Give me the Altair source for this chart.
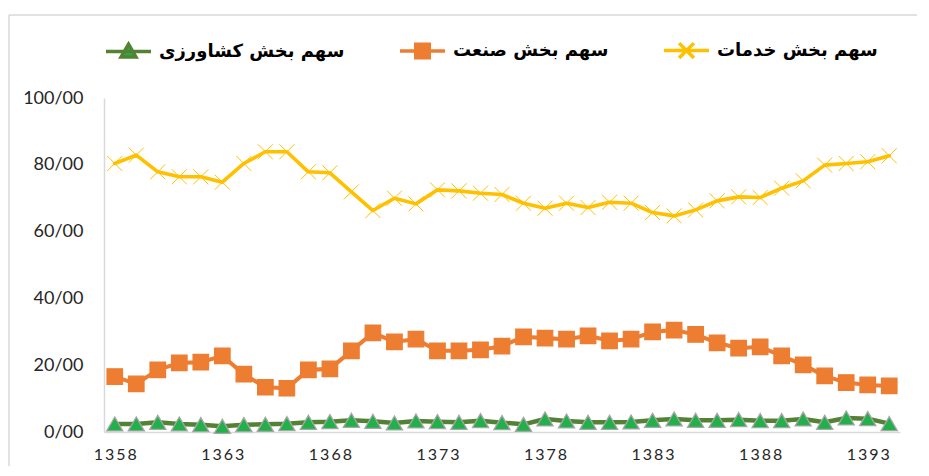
import altair as alt
import pandas as pd

years = list(range(1358, 1395))
tick_years = [1358, 1363, 1368, 1373, 1378, 1383, 1388, 1393]
y_ticks = [0, 20, 40, 60, 80, 100]

agriculture = [2.4, 2.4, 2.9, 2.4, 2.2, 1.7, 2.2, 2.3, 2.5, 2.9, 3.1, 3.5, 3.2, 2.7, 3.3, 3.1, 2.9, 3.4, 2.8,
               2.3, 3.9, 3.3, 2.9, 2.9, 3.0, 3.5, 3.9, 3.5, 3.5, 3.7, 3.4, 3.4, 3.9, 2.9, 4.2, 4.0, 2.5]
industry = [16.6, 14.4, 18.6, 20.7, 20.9, 22.8, 17.3, 13.4, 13.1, 18.6, 18.9, 24.3, 29.7, 27.0, 27.8, 24.3, 24.3, 24.6, 25.7,
            28.5, 28.1, 27.8, 28.8, 27.3, 27.8, 30.0, 30.5, 29.2, 26.7, 25.1, 25.5, 22.8, 20.1, 16.8, 14.8, 14.1, 13.8]
services = [80.4, 82.9, 77.9, 76.4, 76.4, 74.8, 80.4, 83.9, 83.9, 77.9, 77.6, 71.9, 66.3, 70.0, 68.3, 72.5, 72.2, 71.5, 71.1,
            68.5, 67.0, 68.5, 67.2, 68.8, 68.5, 65.7, 64.7, 66.5, 69.2, 70.4, 70.2, 73.0, 75.2, 79.9, 80.4, 80.9, 82.7]

series_names = ["سهم بخش کشاورزی", "سهم بخش صنعت", "سهم بخش خدمات"]
line_colors = ["#548235", "#ED7D31", "#FFC000"]
line_widths = [4.5, 3.6, 4.8]
fill_colors = ["#22B04B", "#ED7D31", "#FFC000"]
stroke_colors = ["#A6A6A6", "#ED7D31", "#FFC000"]
point_shapes = ["triangle-up", "square", "M-1,-1L1,1M-1,1L1,-1"]
point_sizes = [260, 225, 250]
point_strokes = [1.3, 1, 2.4]
legend_shapes = [
    "M-1,0H1M0,-0.33L0.33,0.24L-0.33,0.24Z",
    "M-1,0H1M-0.3,-0.3H0.3V0.3H-0.3Z",
    "M-1,0H1M-0.33,-0.33L0.33,0.33M-0.33,0.33L0.33,-0.33",
]
legend_fills = ["#22B04B", "#ED7D31", "#FFC000"]
legend_strokes = ["#548235", "#ED7D31", "#FFC000"]

rows = []
for name, vals in zip(series_names, [agriculture, industry, services]):
    for yr, v in zip(years, vals):
        rows.append({"year": yr, "value": v, "series": name})
df = pd.DataFrame(rows)

x_enc = alt.X(
    "year:Q",
    scale=alt.Scale(domain=[1357.5, 1394.5], nice=False, zero=False),
    axis=alt.Axis(
        values=tick_years, format="d",
        labelExpr="join(split(datum.label, ''), '\u2009')",
        ticks=False, grid=False, domainColor="#D9D9D9", domainWidth=1.5,
        labelFont="Lato", labelFontSize=16, labelPadding=14, labelColor="#262626",
        title=None,
    ),
)
y_enc = alt.Y(
    "value:Q",
    scale=alt.Scale(domain=[0, 100], nice=False),
    axis=alt.Axis(
        values=y_ticks, labelExpr="datum.value + '/00'",
        ticks=False, grid=False, domainColor="#D9D9D9", domainWidth=1.5,
        labelFont="Lato", labelFontSize=18, labelPadding=21, labelColor="#262626",
        title=None,
    ),
)

base = alt.Chart(df)

lines = base.mark_line(strokeJoin="round", strokeCap="round").encode(
    x=x_enc, y=y_enc,
    color=alt.Color("series:N", scale=alt.Scale(domain=series_names, range=line_colors), legend=None),
    strokeWidth=alt.StrokeWidth("series:N", scale=alt.Scale(domain=series_names, range=line_widths), legend=None),
)

points = base.mark_point(filled=True, opacity=1).encode(
    x=x_enc, y=y_enc,
    shape=alt.Shape("series:N", scale=alt.Scale(domain=series_names, range=point_shapes), legend=None),
    fill=alt.Fill("series:N", scale=alt.Scale(domain=series_names, range=fill_colors), legend=None),
    stroke=alt.Stroke("series:N", scale=alt.Scale(domain=series_names, range=stroke_colors), legend=None),
    size=alt.Size("series:N", scale=alt.Scale(domain=series_names, range=point_sizes), legend=None),
    strokeWidth=alt.StrokeWidth("series:N", scale=alt.Scale(domain=series_names, range=point_strokes), legend=None),
)

leg = alt.Legend(
    title=None, orient="none", legendX=0, legendY=-72, direction="horizontal",
    labelFont="DejaVu Sans", labelFontSize=18, labelFontWeight="bold", labelColor="#000000",
    symbolSize=2025, symbolStrokeWidth=3.5, symbolOpacity=1, columnPadding=48, labelOffset=6,
    labelLimit=400,
)

legend_layer = base.transform_filter("false").mark_point(filled=True, opacity=1, size=2025).encode(
    shape=alt.Shape("series:N", scale=alt.Scale(domain=series_names, range=legend_shapes), legend=leg),
    fill=alt.Fill("series:N", scale=alt.Scale(domain=series_names, range=legend_fills), legend=leg),
    stroke=alt.Stroke("series:N", scale=alt.Scale(domain=series_names, range=legend_strokes), legend=leg),
)

frame_df = pd.DataFrame({"k": [0]})
frame_top = alt.Chart(frame_df).mark_rule(color="#D9D9D9", strokeWidth=1.5).encode(
    x=alt.value(-95), x2=alt.value(840), y=alt.value(-83)
)
frame_left = alt.Chart(frame_df).mark_rule(color="#D9D9D9", strokeWidth=1.5).encode(
    x=alt.value(-95), y=alt.value(-83), y2=alt.value(400)
)

chart = alt.layer(frame_top, frame_left, lines, points, legend_layer).resolve_scale(
    shape="independent", fill="independent", stroke="independent", strokeWidth="independent"
).properties(
    width=796, height=334,
    autosize=alt.AutoSizeParams(type="none"),
    padding={"left": 96, "top": 90, "right": 17, "bottom": 34},
    background="white",
).configure_view(stroke=None)

chart.save("out.html", embed_options={"renderer": "svg", "actions": False})
